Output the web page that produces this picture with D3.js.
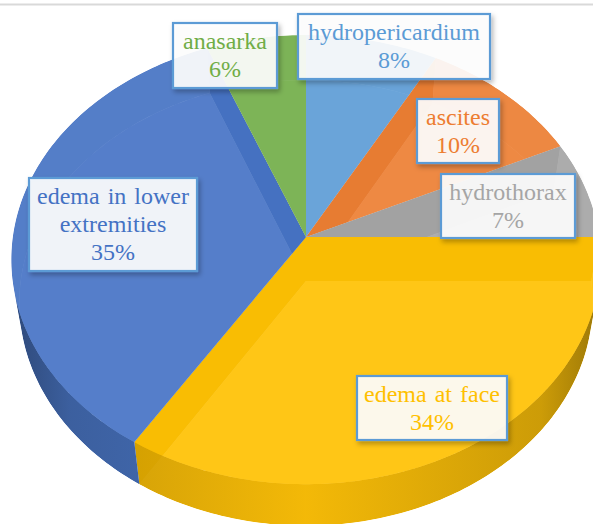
<!DOCTYPE html>
<html>
<head>
<meta charset="utf-8">
<script src="https://cdn.jsdelivr.net/npm/d3@7"></script>
<style>
  body { margin: 0; background: #fff; }
  svg { display: block; }
  .label text { font-family: 'Liberation Serif', 'Times New Roman', serif; font-size: 24px; word-spacing: 2px; }
</style>
</head>
<body>
<svg></svg>
<script>
// data (clockwise from 12 o'clock, like Excel)
const categories = ['hydropericardium', 'ascites', 'hydrothorax', 'edema at face', 'edema in lower extremities', 'anasarka']
const values = [8, 10, 7, 34, 35, 6]
const labelLines = [['hydropericardium'], ['ascites'], ['hydrothorax'], ['edema at face'], ['edema in lower', 'extremities'], ['anasarka']]
const colors = ['#5B9BD5', '#ED7D31', '#A5A5A5', '#FFC000', '#4472C4', '#70AD47']

// label boxes placed by hand, [x, y, w, h]
const labelBoxes = [
  [298, 14, 192, 65],
  [417, 99, 82, 64],
  [441, 174, 134, 64],
  [357, 376, 150, 64],
  [29, 178, 168, 93],
  [173, 23, 104, 65]
]

const width = 593,
  height = 524

// perspective projection of a tilted disc
const cx = 306, cy = 237
const tilt = 49.3 * Math.PI / 180
const sinT = Math.sin(tilt), cosT = Math.cos(tilt)
const dist = 6.48, focal = 1900, thick = 0.237

function project(theta, r, y) {
  const X = r * Math.sin(theta),
    Z = -r * Math.cos(theta)
  const depth = dist - y * sinT - Z * cosT
  const up = y * cosT - Z * sinT
  return [cx + focal * X / depth, cy - focal * up / depth]
}

function arcPts(a0, a1, y) {
  const n = Math.max(2, Math.ceil(Math.abs(a1 - a0) / (Math.PI / 180)))
  return d3.range(n + 1).map(i => project(a0 + (a1 - a0) * i / n, 1, y))
}

const line = d3.line()
const closed = pts => line(pts) + 'Z'

function sidePath(a0, a1) {
  return closed([...arcPts(a0, a1, 0), ...arcPts(a1, a0, -thick)])
}
const facePath = (d, y) => closed([project(0, 0, y), ...arcPts(d.startAngle, d.endAngle, y)])

const svg = d3.select('svg')
  .attr('width', width)
  .attr('height', height)

const defs = svg.append('defs')

const shadow = defs.append('filter')
  .attr('id', 'shadow')
  .attr('x', '-20%').attr('y', '-20%')
  .attr('width', '150%').attr('height', '160%')
shadow.append('feDropShadow')
  .attr('dx', 2).attr('dy', 3)
  .attr('stdDeviation', 2.5)
  .attr('flood-color', '#000')
  .attr('flood-opacity', 0.3)

// top border line
svg.append('line')
  .attr('x1', 0).attr('x2', width)
  .attr('y1', 4.5).attr('y2', 4.5)
  .attr('stroke', '#d9d9d9')
  .attr('stroke-width', 2)

const pie = d3.pie().sort(null).value(d => d)
const arcs = pie(values)

// front facing part of the rim
const k = 1 / (dist * cosT)
const frontA0 = Math.acos(-k),
  frontA1 = 2 * Math.PI - Math.acos(-k)

const frontRange = d => [Math.max(d.startAngle, frontA0), Math.min(d.endAngle, frontA1)]

// side gradients + per slice clips (each slice only shows its own inside)
arcs.forEach((d, i) => {
  const c = d3.color(colors[i])
  const g = defs.append('linearGradient')
    .attr('id', 'side' + i)
    .attr('gradientUnits', 'userSpaceOnUse')
    .attr('x1', 12).attr('x2', 600)
    .attr('y1', 0).attr('y2', 0)
  g.append('stop').attr('offset', 0).attr('stop-color', c.darker(1.6))
  g.append('stop').attr('offset', 0.1).attr('stop-color', c.darker(0.7))
  g.append('stop').attr('offset', 0.5).attr('stop-color', c.darker(0.15))
  g.append('stop').attr('offset', 0.9).attr('stop-color', c.darker(0.7))
  g.append('stop').attr('offset', 1).attr('stop-color', c.darker(1.6))

  const clip = defs.append('clipPath').attr('id', 'clip' + i)
  clip.append('path').attr('d', facePath(d, 0))
  const fr = frontRange(d)
  if (fr[1] > fr[0]) clip.append('path').attr('d', sidePath(fr[0], fr[1]))
})

const slices = svg.append('g')
  .selectAll('.slice')
  .data(arcs)
  .enter().append('g')
  .attr('class', 'slice')
  .attr('clip-path', (d, i) => `url(#clip${i})`)

slices.each(function (d, i) {
  const g = d3.select(this)
  const c = d3.color(colors[i])

  // bottom face
  g.append('path')
    .attr('d', facePath(d, -thick))
    .attr('fill', colors[i])
    .attr('fill-opacity', 0.7)

  // back part of the rim, seen through the top
  const parts = [[d.startAngle, Math.min(d.endAngle, frontA0)], [Math.max(d.startAngle, frontA1), d.endAngle]]
  parts.filter(p => p[1] > p[0]).forEach(p => {
    g.append('path')
      .attr('d', sidePath(p[0], p[1]))
      .attr('fill', c.darker(0.1))
      .attr('fill-opacity', 0.7)
  })

  // radial walls
  ;[d.startAngle, d.endAngle].forEach(a => {
    g.append('path')
      .attr('d', closed([project(a, 0, 0), project(a, 0, -thick), project(a, 1, -thick), project(a, 1, 0)]))
      .attr('fill', c.darker(0.25))
      .attr('fill-opacity', 0.95)
  })

  // front rim
  const fr = frontRange(d)
  if (fr[1] > fr[0]) {
    g.append('path')
      .attr('d', sidePath(fr[0], fr[1]))
      .attr('fill', `url(#side${i})`)
      .attr('fill-opacity', 0.9)
  }

  // top face
  g.append('path')
    .attr('d', facePath(d, 0))
    .attr('fill', colors[i])
    .attr('fill-opacity', 0.7)
})

// data labels
const total = d3.sum(values)
const pct = d3.format('.0%')

const labels = svg.selectAll('.label')
  .data(arcs)
  .enter().append('g')
  .attr('class', 'label')
  .attr('transform', (d, i) => `translate(${labelBoxes[i][0]},${labelBoxes[i][1]})`)

labels.append('rect')
  .attr('width', (d, i) => labelBoxes[i][2])
  .attr('height', (d, i) => labelBoxes[i][3])
  .attr('fill', 'rgba(255,255,255,0.9)')
  .attr('stroke', '#5B9BD5')
  .attr('stroke-width', 2.2)
  .attr('filter', 'url(#shadow)')

labels.each(function (d, i) {
  const g = d3.select(this)
  const lines = labelLines[i].concat([pct(d.value / total)])
  g.selectAll('text')
    .data(lines)
    .enter().append('text')
    .attr('x', labelBoxes[i][2] / 2)
    .attr('y', (t, j) => 26 + j * 28)
    .attr('text-anchor', 'middle')
    .attr('fill', colors[i])
    .text(t => t)
})
</script>
</body>
</html>
